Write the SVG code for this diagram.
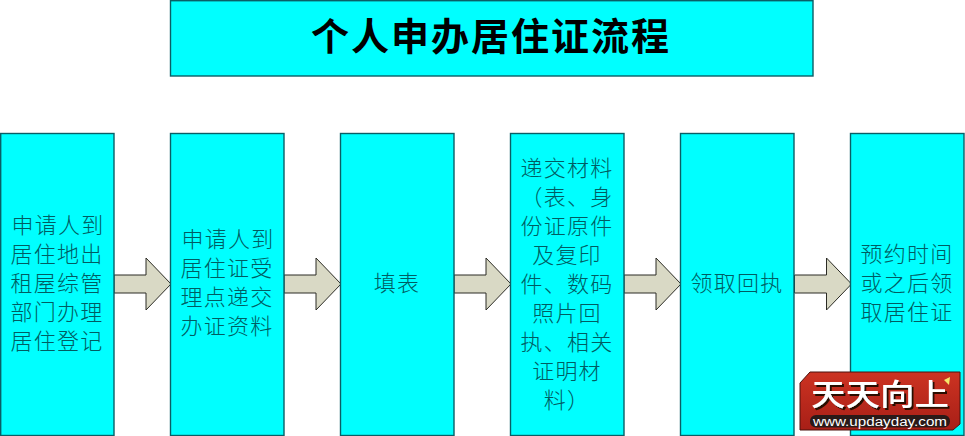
<svg xmlns="http://www.w3.org/2000/svg" width="965" height="436" viewBox="0 0 965 436">
<defs>
<style>
.box{fill:#00ffff;stroke:#0a5f66;stroke-width:1.4}
.t{font-family:"Noto Sans CJK SC","Noto Sans",sans-serif;font-size:22px;fill:#005c62;text-anchor:middle;letter-spacing:1.2px;font-weight:300}
.title{font-family:"Noto Sans CJK SC","Noto Sans",sans-serif;font-size:38px;font-weight:700;fill:#000;text-anchor:middle;letter-spacing:2px}
.arrow{fill:#d9d9c5;stroke:#2b2b24;stroke-width:1}
</style>
<linearGradient id="wm" x1="0" y1="0" x2="0" y2="1"><stop offset="0" stop-color="#cc3322"/><stop offset="1" stop-color="#a81f17"/></linearGradient>
<filter id="sh" x="-5%" y="-10%" width="110%" height="125%"><feDropShadow dx="2" dy="2" stdDeviation="0.3" flood-color="#2a0806"/></filter>
<path id="a" class="arrow" d="M0 -9H32V-26L57 0L32 26V9H0Z"/>
</defs>
<rect width="965" height="436" fill="#fff"/>
<g id="title"><rect class="box" x="170.500" y="0.700" width="642.500" height="75.300"/><text class="title" x="491" y="50">个人申办居住证流程</text></g>
<g id="connectors">
<use href="#a" x="114" y="284"/><use href="#a" x="284" y="284"/><use href="#a" x="454" y="284"/><use href="#a" x="624" y="284"/><use href="#a" x="794.500" y="284"/>
</g>
<g id="n1"><rect class="box" x="0.700" y="133.500" width="113.300" height="302"/>
<text class="t" x="58" y="233">申请人到</text><text class="t" x="57" y="262">居住地出</text><text class="t" x="57" y="291">租屋综管</text><text class="t" x="57" y="320">部门办理</text><text class="t" x="57" y="349">居住登记</text></g>
<g id="n2"><rect class="box" x="170.500" y="133.500" width="113.500" height="302"/>
<text class="t" x="228" y="247">申请人到</text><text class="t" x="227" y="276">居住证受</text><text class="t" x="227" y="305">理点递交</text><text class="t" x="227" y="334">办证资料</text></g>
<g id="n3"><rect class="box" x="340.500" y="133.500" width="113.500" height="302"/>
<text class="t" x="397" y="291">填表</text></g>
<g id="n4"><rect class="box" x="510.500" y="133.500" width="113.500" height="302"/>
<text class="t" x="567" y="176">递交材料</text><text class="t" x="567" y="205">（表、身</text><text class="t" x="567" y="234">份证原件</text><text class="t" x="567" y="263">及复印</text><text class="t" x="567" y="292">件、数码</text><text class="t" x="567" y="321">照片回</text><text class="t" x="567" y="350">执、相关</text><text class="t" x="567" y="379">证明材</text><text class="t" x="567" y="408">料）</text></g>
<g id="n5"><rect class="box" x="680.500" y="133.500" width="113.500" height="302"/>
<text class="t" x="737" y="291">领取回执</text></g>
<g id="n6"><rect class="box" x="850.500" y="133.500" width="113.500" height="302"/>
<text class="t" x="907" y="262">预约时间</text><text class="t" x="907" y="291">或之后领</text><text class="t" x="907" y="320">取居住证</text></g>
<g id="watermark">
<path d="M810 372H960V424L953 430H800V383Z" fill="url(#wm)" stroke="#4a120e" stroke-width="1"/>
<text x="811" y="405" font-family="'Noto Sans CJK SC',sans-serif" font-size="30" font-weight="500" fill="#fff" filter="url(#sh)" textLength="138" lengthAdjust="spacingAndGlyphs">天天向上</text>
<path d="M950 377L944 380L949 385Z" fill="#f6e86a"/>
<rect x="810" y="415" width="140" height="12.500" rx="6" fill="#2a1a18"/>
<text x="880" y="425.500" font-family="'Liberation Sans',Arial,sans-serif" font-size="12.500" fill="#fff" text-anchor="middle" textLength="134" lengthAdjust="spacingAndGlyphs">www.updayday.com</text>
</g>
</svg>
